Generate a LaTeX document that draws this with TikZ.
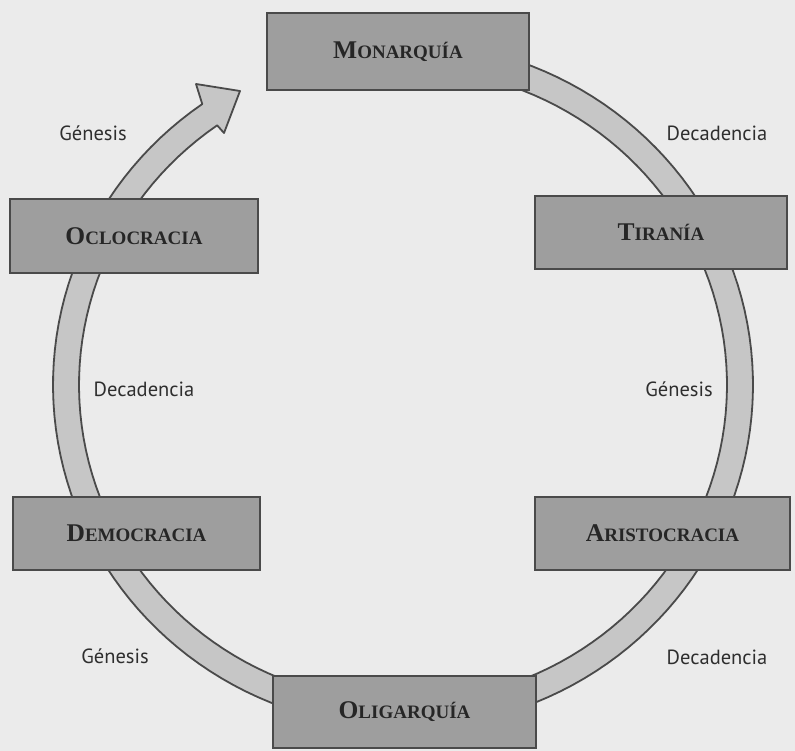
\documentclass[tikz,border=0pt]{standalone}
\usepackage{fontspec}
\setmainfont{Liberation Serif}
\newfontfamily\labelfont{PT Sans}
\definecolor{bg}{HTML}{EBEBEB}
\definecolor{bandfill}{HTML}{C6C6C6}
\definecolor{bandline}{HTML}{4A4A4A}
\definecolor{boxfill}{HTML}{9E9E9E}
\definecolor{boxline}{HTML}{4A4A4A}
\definecolor{boxtext}{HTML}{262626}
\definecolor{lbltext}{HTML}{2E2E2E}
\newcommand{\mysc}[2]{{\fontsize{25.5pt}{25.5pt}\selectfont #1}{\fontsize{19pt}{19pt}\selectfont #2}}
\tikzset{
  govbox/.style={draw=boxline, fill=boxfill, line width=1.8pt, inner sep=0pt, text=boxtext, font=\bfseries},
  lbl/.style={font=\labelfont\fontsize{20.5pt}{20.5pt}\selectfont, text=lbltext, inner sep=0pt},
  band/.style={draw=bandline, fill=bandfill, line width=1.8pt, line join=round}
}
\begin{document}
\begin{tikzpicture}[x=1pt,y=-1pt]
\fill[bg] (0,0) rectangle (795,751);
\useasboundingbox (0,0) rectangle (795,751);
% circular arrow band
\filldraw[band] plot[domain=-75:235,samples=140] ({403+350*cos(\x)},{385+343*sin(\x)})
  -- (196,84) -- (240,91) -- (224,133)
  -- plot[domain=235:-75,samples=140] ({403+324*cos(\x)},{385+317*sin(\x)}) -- cycle;
% boxes
\node[govbox, minimum width=262pt, minimum height=77pt] (mon) at (398,51.5) {\mysc{M}{ONARQUÍA}};
\node[govbox, minimum width=248pt, minimum height=74pt] (ocl) at (134,236) {\mysc{O}{CLOCRACIA}};
\node[govbox, minimum width=252pt, minimum height=73pt] (tir) at (661,232.5) {\mysc{T}{IRANÍA}};
\node[govbox, minimum width=247pt, minimum height=73pt] (dem) at (136.5,533.5) {\mysc{D}{EMOCRACIA}};
\node[govbox, minimum width=255pt, minimum height=73pt] (ari) at (662.5,533.5) {\mysc{A}{RISTOCRACIA}};
\node[govbox, minimum width=263pt, minimum height=72pt] (oli) at (404.5,712) {\mysc{O}{LIGARQUÍA}};
% labels
\node[lbl] (g1) at (93,133) {Génesis};
\node[lbl] (d1) at (717,133) {Decadencia};
\node[lbl] (d2) at (144,389) {Decadencia};
\node[lbl] (g2) at (679,389) {Génesis};
\node[lbl] (g3) at (115,656) {Génesis};
\node[lbl] (d3) at (717,657) {Decadencia};
\end{tikzpicture}
\end{document}
